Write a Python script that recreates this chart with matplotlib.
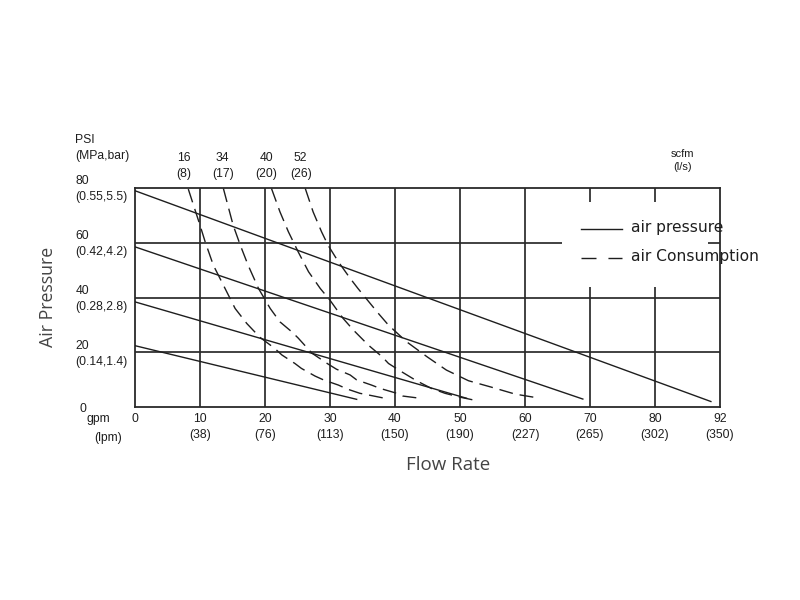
import matplotlib
matplotlib.use("Agg")
import matplotlib.pyplot as plt
from matplotlib.patches import Rectangle

plt.rcParams['lines.scale_dashes'] = False

# air pressure lines (flow gpm, pressure psi)
p80_x = [0, 88.6]
p80_y = [79, 2]
p60_x = [0, 68.9]
p60_y = [58.5, 2.9]
p40_x = [0, 51]
p40_y = [38.4, 3.2]
p20_x = [0, 34.1]
p20_y = [22.4, 2.8]

# air consumption curves (scfm)
c16_x = [8.2, 10, 10.8, 12.05, 13.6, 15.4, 17.2, 19.2, 21.5, 22.6, 24.6, 25.6,
         27.7, 29, 31.3, 32.6, 34.6, 35.9, 38.2]
c16_y = [79.6, 66.4, 60.3, 51.8, 44.5, 36, 30.5, 25.5, 21.4, 19, 15.9, 14.1,
         11.3, 9.9, 8, 6.6, 5, 4.4, 3.3]
c34_x = [13.6, 15.1, 16.2, 17.4, 19.0, 20.8, 22.3, 24.1, 25.1, 27.2, 29.7, 31,
         33.1, 34.1, 36.4, 37.7, 40, 41.2, 43.5]
c34_y = [79.8, 66.4, 59.1, 51.8, 43.3, 36, 31.1, 27.5, 25.2, 19.7, 15.7, 13.8,
         11.7, 9.9, 8, 6.8, 5.2, 4, 3.3]
c40_x = [21.0, 22.3, 23.6, 25.1, 26.7, 28.5, 30, 32, 33.6, 35.4, 36.2, 38, 39,
         41, 43.3, 45.6, 47.7, 50, 52]
c40_y = [79.8, 71.3, 64, 56.7, 49.4, 43.3, 39, 32.4, 28.1, 23.8, 22, 18.4, 15.9,
         12.9, 9.6, 6.8, 5, 3.6, 2.6]
c52_x = [26.2, 27.4, 28.7, 29.7, 31.3, 33.1, 34.3, 37.4, 39, 41.8, 44.9, 47.9,
         51.3, 54.9, 58.5, 62.3]
c52_y = [79.8, 71.3, 64, 59.1, 53, 47, 43.3, 34.3, 29.9, 23.8, 18.4, 13.5,
         9.6, 7.2, 4.7, 3.2]

flow_ticks = [10, 20, 30, 40, 50, 60, 70, 80, 90]
flow_labels = ["10\n(38)", "20\n(76)", "30\n(113)", "40\n(150)", "50\n(190)",
               "60\n(227)", "70\n(265)", "80\n(302)", "92\n(350)"]
psi_ticks = [20, 40, 60, 80]
psi_labels = ["20\n(0.14,1.4)", "40\n(0.28,2.8)", "60\n(0.42,4.2)", "80\n(0.55,5.5)"]
scfm_pos = [7.5, 13.5, 20.2, 25.5]
scfm_labels = ["16\n(8)", "34\n(17)", "40\n(20)", "52\n(26)"]

INK = "#1e1e1e"
NUM = dict(family="Liberation Sans", fontsize=8.7, color=INK, linespacing=1.45)

fig = plt.figure(figsize=(8, 6), dpi=100)
ax = fig.add_axes([135 / 800, 1 - 407 / 600, 585 / 800, 219 / 600])
ax.set_xlim(0, 90)
ax.set_ylim(0, 80)
ax.set_xticks([])
ax.set_yticks([])
for s in ax.spines.values():
    s.set_linewidth(1.3)
    s.set_color("#2a2a2a")

# grid
ax.vlines(flow_ticks[:-1], 0, 80, color="#2a2a2a", lw=1.25, zorder=1)
ax.hlines(psi_ticks[:-1], 0, 90, color="#2a2a2a", lw=1.25, zorder=1)
# blank area behind the legend
ax.add_patch(Rectangle((65.7, 43.8), 22.5, 31, facecolor="white",
                       edgecolor="none", zorder=1.5))

for xs, ys in [(p80_x, p80_y), (p60_x, p60_y), (p40_x, p40_y), (p20_x, p20_y)]:
    ax.plot(xs, ys, color=INK, lw=1.0, zorder=3)
for xs, ys in [(c16_x, c16_y), (c34_x, c34_y), (c40_x, c40_y), (c52_x, c52_y)]:
    ax.plot(xs, ys, color=INK, lw=1.0, dashes=(10, 5), zorder=3)

# legend
ax.plot([68.6, 74.9], [65, 65], color=INK, lw=1.0, zorder=3)
ax.plot([68.6, 74.9], [54.3, 54.3], color=INK, lw=1.0, dashes=(10.8, 8.6), zorder=3)
ax.text(76.3, 65.5, "air pressure", fontsize=11.2, color=INK, va="center", zorder=4)
ax.text(76.3, 54.8, "air Consumption", fontsize=11.2, color=INK, va="center", zorder=4)

# tick labels
for x, lab in zip(flow_ticks, flow_labels):
    ax.text(x, -7.3, lab, ha="center", va="center", clip_on=False, **NUM)
ax.text(0, -4.4, "0", ha="center", va="center", **NUM)
ax.text(-5.7, -4.4, "gpm", ha="center", va="center", **NUM)
ax.text(-4.2, -11.3, "(lpm)", ha="center", va="center", **NUM)
for y, lab in zip(psi_ticks, psi_labels):
    ax.text(-9.2, y - 0.5, lab, ha="left", va="center", **NUM)
ax.text(-8.6, -0.7, "0", ha="left", va="center", **NUM)
ax.text(-9.2, 94.6, "PSI\n(MPa,bar)", ha="left", va="center", **NUM)
for x, lab in zip(scfm_pos, scfm_labels):
    ax.text(x, 88.1, lab, ha="center", va="center", **NUM)
ax.text(84.3, 90.1, "scfm\n(l/s)", ha="center", va="center",
        **{**NUM, "fontsize": 8})

ax.text(-13.4, 40.1, "Air Pressure", rotation=90, ha="center", va="center",
        family="Open Sans", fontsize=12.8, color="#444444")
ax.text(48.2, -21.2, "Flow Rate", ha="center", va="center",
        family="Open Sans", fontsize=13.5, color="#444444")

fig.savefig("out.png", dpi=100)
